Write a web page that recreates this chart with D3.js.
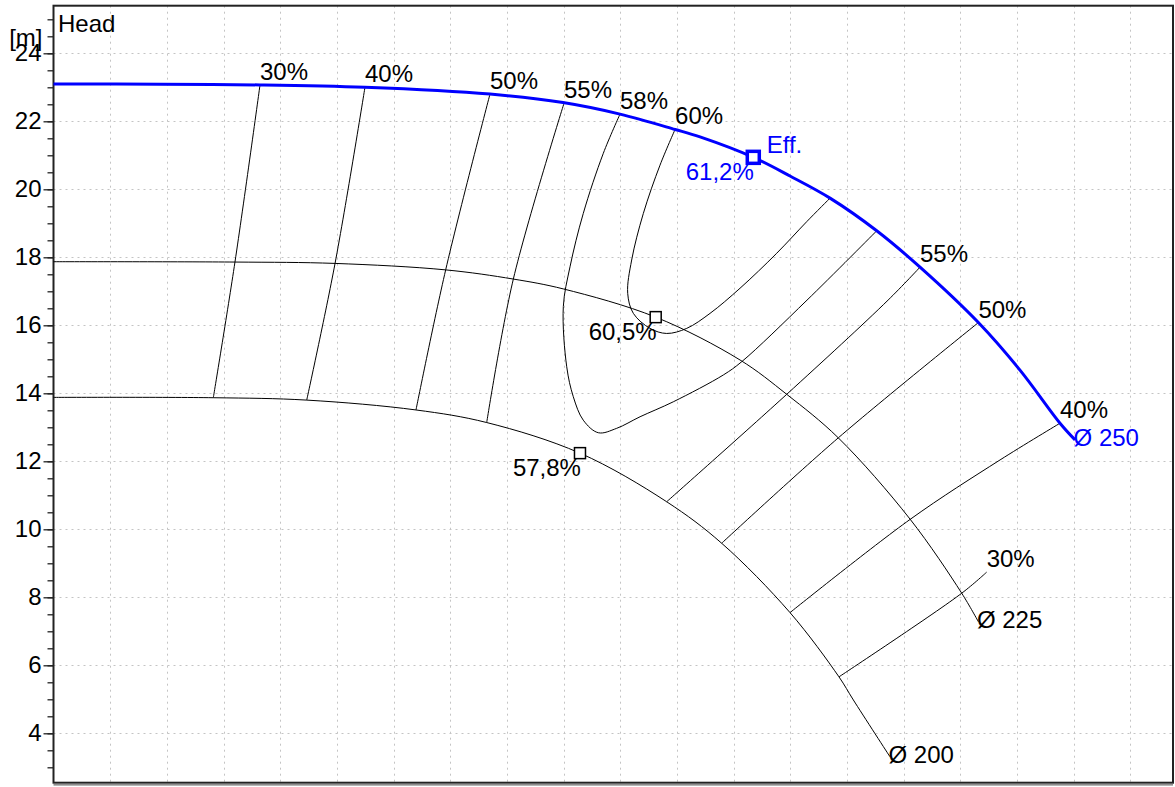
<!DOCTYPE html>
<html>
<head>
<meta charset="utf-8">
<script src="https://cdn.jsdelivr.net/npm/d3@7"></script>
<style>
  html, body { margin: 0; padding: 0; background: #fff; }
  svg { display: block; }
  text { font-family: "Liberation Sans", Arial, sans-serif; }
</style>
</head>
<body>
<svg id="chart" width="1175" height="787"></svg>
<script>
// ---- Data (flow Q in grid units, head H in m) ----
const yTickValues = [4, 6, 8, 10, 12, 14, 16, 18, 20, 22, 24];
const xGridValues = [5, 10, 15, 20, 25, 30, 35, 40, 45, 50, 55, 60, 65, 70, 75, 80, 85, 90, 95];

const Q250 = [0, 9.4, 18.22, 27.48, 38.51, 44.95, 49.98, 54.84, 57.04, 61.74, 64.98, 68.51, 72.63, 76.45, 81.6, 85.27, 88.8, 90.13];
const H250 = [23.10, 23.09, 23.07, 23.0, 22.80, 22.55, 22.21, 21.76, 21.54, 20.94, 20.39, 19.74, 18.78, 17.71, 16.08, 14.68, 13.12, 12.63];

const Q225 = [0, 16.01, 24.84, 34.6, 40.57, 44.98, 53.13, 60.57, 64.69, 69.24, 75.57, 80.13, 81.6];
const H225 = [17.87, 17.86, 17.82, 17.63, 17.36, 17.07, 16.24, 14.98, 13.97, 12.69, 10.30, 8.12, 7.28];

const Q200 = [0, 14.1, 22.34, 31.98, 38.22, 46.45, 54.1, 58.95, 64.98, 69.3, 70.57, 73.8];
const H200 = [13.88, 13.87, 13.80, 13.51, 13.14, 12.24, 10.81, 9.59, 7.55, 5.66, 4.98, 3.31];

const impellerLabels = ["Ø 250", "Ø 225", "Ø 200"];

// iso-efficiency lines [Q, H]
const iso30L = [[18.22, 23.07], [16.01, 17.86], [14.1, 13.87]];
const iso40L = [[27.48, 23.0], [24.84, 17.82], [22.34, 13.80]];
const iso50L = [[38.51, 22.80], [34.6, 17.63], [31.98, 13.51]];
const iso55L = [[45.04, 22.53], [40.57, 17.36], [38.22, 13.14]];
const iso58 = [[49.98, 22.21], [48.51, 21.06], [46.74, 19.29], [45.57, 17.72], [44.98, 16.55], [45.28, 14.78],
               [45.86, 13.90], [46.74, 13.21], [48.07, 12.84], [49.69, 12.97], [51.75, 13.31], [54.68, 13.75],
               [59.1, 14.54], [60.72, 14.93], [66.48, 16.74], [72.63, 18.78]];
const iso60 = [[54.84, 21.76], [53.51, 20.71], [52.04, 19.29], [51.01, 17.92], [50.66, 16.94], [51.16, 16.35],
               [52.63, 15.91], [54.1, 15.76], [55.87, 15.91], [57.92, 16.35], [60.57, 17.09], [63.81, 18.12],
               [66.46, 19.05], [68.51, 19.74]];
const iso55R = [[76.45, 17.71], [73.63, 16.74], [64.69, 13.97], [54.1, 10.81]];
const iso50R = [[81.6, 16.08], [69.24, 12.69], [58.95, 9.59]];
const iso40R = [[88.8, 13.12], [83.51, 12.04], [75.57, 10.29], [64.98, 7.55]];
const iso30R = [[82.33, 8.74], [80.13, 8.12], [69.3, 5.66]];

const isoLines = [iso30L, iso40L, iso50L, iso55L, iso58, iso60, iso55R, iso50R, iso40R, iso30R];
const isoLabels = ["30%", "40%", "50%", "55%", "58%", "60%", "55%", "50%", "40%", "30%"];

// best efficiency points [Q, H]
const effPoint = [61.74, 20.94];
const effLabel = "61,2%";
const bepPoints = [[53.13, 16.24], [46.45, 12.24]];
const bepLabels = ["60,5%", "57,8%"];

// ---- Drawing ----
const svg = d3.select("#chart");
const pLeft = 53.5, pRight = 1173, pTop = 5.7, pBottom = 782.7;
const x = d3.scaleLinear().domain([0, 98.77]).range([pLeft, pRight]);
const y = d3.scaleLinear().domain([2.547, 25.4]).range([pBottom, pTop]);
const FS = "24px";

// grid
const grid = svg.append("g").attr("stroke", "#c4c4c4").attr("stroke-width", 1).attr("stroke-dasharray", "2,4");
grid.selectAll("line.h").data(yTickValues).join("line").attr("class", "h")
  .attr("x1", pLeft).attr("x2", pRight)
  .attr("y1", d => Math.round(y(d)) + 0.5).attr("y2", d => Math.round(y(d)) + 0.5);
grid.selectAll("line.v").data(xGridValues).join("line").attr("class", "v")
  .attr("y1", pTop).attr("y2", pBottom)
  .attr("x1", d => Math.round(x(d)) + 0.5).attr("x2", d => Math.round(x(d)) + 0.5);

// y axis: minor ticks every 0.5, major every 2
const yAxisMinor = d3.axisLeft(y).tickValues(d3.range(3, 25.01, 0.5)).tickSize(6).tickFormat("");
const yAxisMajor = d3.axisLeft(y).tickValues(yTickValues).tickSize(10).tickPadding(2).tickFormat(d3.format("d"));
const gMinor = svg.append("g").attr("transform", `translate(${pLeft},0)`).call(yAxisMinor);
gMinor.select(".domain").remove();
gMinor.selectAll("line").attr("stroke", "#222").attr("stroke-width", 1.3);
const gMajor = svg.append("g").attr("transform", `translate(${pLeft},0)`).call(yAxisMajor);
gMajor.select(".domain").remove();
gMajor.selectAll("line").attr("stroke", "#222").attr("stroke-width", 1.3);
gMajor.selectAll("text").attr("font-size", FS).attr("fill", "#000")
  .attr("font-family", "Liberation Sans, Arial, sans-serif");

// frame
svg.append("rect").attr("x", pLeft).attr("y", pTop).attr("width", pRight - pLeft).attr("height", pBottom - pTop)
  .attr("fill", "none").attr("stroke", "#222").attr("stroke-width", 2);
svg.append("line").attr("x1", pLeft).attr("x2", pRight).attr("y1", pBottom + 2.2).attr("y2", pBottom + 2.2)
  .attr("stroke", "#444").attr("stroke-width", 1);

// axis titles
svg.append("text").attr("x", 42.5).attr("y", 45.5).attr("text-anchor", "end").attr("font-size", FS).text("[m]");
svg.append("text").attr("x", 58).attr("y", 32.3).attr("font-size", FS).text("Head");

const line = d3.line().x(d => x(d[0])).y(d => y(d[1])).curve(d3.curveCatmullRom.alpha(0.5));

// iso-efficiency lines
svg.append("g").selectAll("path").data(isoLines).join("path")
  .attr("d", line).attr("fill", "none").attr("stroke", "#000").attr("stroke-width", 1);
svg.append("g").selectAll("text").data(isoLines).join("text")
  .attr("x", d => x(d[0][0])).attr("y", d => y(d[0][1]) - 5)
  .attr("font-size", FS).attr("fill", "#000")
  .text((d, i) => isoLabels[i]);

// impeller curves
const curves = [
  { q: Q250, h: H250, color: "#0000ff", w: 3 },
  { q: Q225, h: H225, color: "#000", w: 1 },
  { q: Q200, h: H200, color: "#000", w: 1 }
];
curves.slice().reverse().forEach(c => {
  const pts = c.q.map((q, i) => [q, c.h[i]]);
  svg.append("path").attr("d", line(pts)).attr("fill", "none")
    .attr("stroke", c.color).attr("stroke-width", c.w);
});
curves.forEach((c, i) => {
  const n = c.q.length - 1;
  svg.append("text").attr("x", x(c.q[n]) - 1.5).attr("y", y(c.h[n]) + 6)
    .attr("font-size", FS).attr("fill", c.color).text(impellerLabels[i]);
});

// BEP points on smaller impellers
bepPoints.forEach((p, i) => {
  svg.append("rect").attr("x", x(p[0]) - 5.5).attr("y", y(p[1]) - 5.5).attr("width", 11).attr("height", 11)
    .attr("fill", "#fff").attr("stroke", "#000").attr("stroke-width", 1.5);
  svg.append("text").attr("x", x(p[0]) + 1).attr("y", y(p[1]) + 22.7).attr("text-anchor", "end")
    .attr("font-size", FS).attr("fill", "#000").text(bepLabels[i]);
});

// efficiency point on Ø250
svg.append("rect").attr("x", x(effPoint[0]) - 6).attr("y", y(effPoint[1]) - 6).attr("width", 12).attr("height", 12)
  .attr("fill", "#fff").attr("stroke", "#0000ff").attr("stroke-width", 3.5);
svg.append("text").attr("x", x(effPoint[0]) + 13.4).attr("y", y(effPoint[1]) - 4.6)
  .attr("font-size", FS).attr("fill", "#0000ff").text("Eff.");
svg.append("text").attr("x", x(effPoint[0]) + 0.5).attr("y", y(effPoint[1]) + 22.7).attr("text-anchor", "end")
  .attr("font-size", FS).attr("fill", "#0000ff").text(effLabel);
</script>
</body>
</html>
